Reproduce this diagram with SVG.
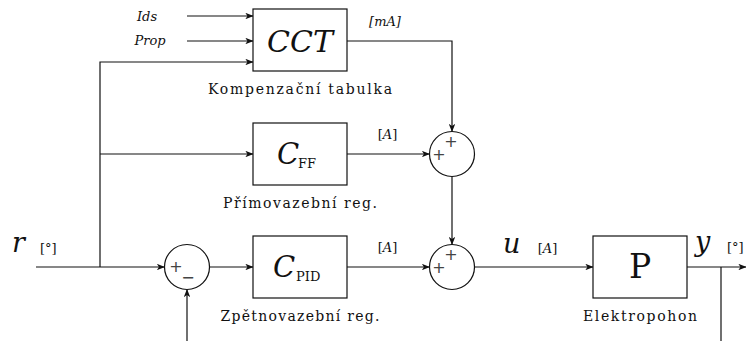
<svg xmlns="http://www.w3.org/2000/svg" width="746" height="341" viewBox="0 0 746 341">
  <style>
    .blk { fill: #fff; stroke: #111; stroke-width: 1.2; }
    .sum { fill: #fff; stroke: #111; stroke-width: 1.2; }
    .wire { fill: none; stroke: #111; stroke-width: 1.2; }
    .arrow { marker-end: url(#tip); }
    .math { font-family: "DejaVu Serif", "Liberation Serif", serif; font-style: italic; fill: #111; }
    .rm { font-family: "DejaVu Serif", "Liberation Serif", serif; fill: #111; }
    .cap { font-family: "DejaVu Serif", "Liberation Serif", serif; font-size: 14px; fill: #111; text-anchor: middle; }
    .unit { font-family: "DejaVu Serif", "Liberation Serif", serif; font-size: 13px; fill: #111; }
    .sign { font-family: "DejaVu Sans", "Liberation Sans", sans-serif; font-size: 16px; fill: #444; text-anchor: middle; }
  </style>
  <defs>
    <marker id="tip" viewBox="0 0 10 8" refX="9.5" refY="4" markerWidth="8" markerHeight="6.4" markerUnits="userSpaceOnUse" orient="auto">
      <path d="M0,0 L10,4 L0,8 L2.5,4 Z" fill="#111"/>
    </marker>
  </defs>

  <!-- signal lines -->
  <g id="connectors">
    <line class="wire arrow" x1="187" y1="16" x2="253" y2="16"/>
    <line class="wire arrow" x1="187" y1="41" x2="253" y2="41"/>
    <line class="wire arrow" x1="36" y1="267" x2="164.5" y2="267"/>
    <polyline class="wire arrow" points="100,267 100,62 253,62"/>
    <line class="wire arrow" x1="100" y1="154" x2="253" y2="154"/>
    <line class="wire arrow" x1="209.5" y1="267" x2="253" y2="267"/>
    <line class="wire arrow" x1="187" y1="341" x2="187" y2="289.5"/>
    <polyline class="wire arrow" points="347,41 452,41 452,131.5"/>
    <line class="wire arrow" x1="347" y1="154" x2="429.5" y2="154"/>
    <line class="wire arrow" x1="452" y1="176.5" x2="452" y2="244.5"/>
    <line class="wire arrow" x1="347" y1="267" x2="429.5" y2="267"/>
    <line class="wire arrow" x1="474.5" y1="267" x2="593" y2="267"/>
    <line class="wire arrow" x1="687" y1="267" x2="746" y2="267"/>
    <line class="wire" x1="721" y1="267" x2="721" y2="341"/>
  </g>

  <!-- signal labels -->
  <g id="labels">
    <text class="math" x="147" y="21" font-size="13" text-anchor="middle">Ids</text>
    <text class="math" x="150" y="45" font-size="13" text-anchor="middle">Prop</text>
    <text class="math" x="385" y="26" font-size="13" text-anchor="middle">[mA]</text>
    <text class="unit" x="387.5" y="139" text-anchor="middle">[<tspan font-style="italic">A</tspan>]</text>
    <text class="unit" x="387.5" y="252" text-anchor="middle">[<tspan font-style="italic">A</tspan>]</text>
    <text class="math" x="12" y="252" font-size="27">r</text>
    <text class="unit" x="40" y="253">[°]</text>
    <text class="math" x="503" y="253" font-size="27">u</text>
    <text class="unit" x="547.5" y="253" text-anchor="middle">[<tspan font-style="italic">A</tspan>]</text>
    <text class="math" x="695" y="251" font-size="27">y</text>
    <text class="unit" x="727" y="252">[°]</text>
  </g>

  <g id="cct">
    <rect class="blk" x="253" y="9" width="94" height="62"/>
    <text class="math" x="300" y="52" font-size="30" text-anchor="middle">CCT</text>
    <text class="cap" x="300" y="94" textLength="184">Kompenzační tabulka</text>
  </g>

  <g id="cff">
    <rect class="blk" x="253" y="123" width="94" height="62"/>
    <text class="math" x="277" y="164" font-size="29">C</text>
    <text class="rm" x="298" y="168" font-size="13">FF</text>
    <text class="cap" x="300" y="208" textLength="154">Přímovazební reg.</text>
  </g>

  <g id="cpid">
    <rect class="blk" x="253" y="236" width="94" height="62"/>
    <text class="math" x="273" y="277" font-size="29">C</text>
    <text class="rm" x="296" y="281" font-size="13">PID</text>
    <text class="cap" x="300" y="321" textLength="159">Zpětnovazební reg.</text>
  </g>

  <g id="plant">
    <rect class="blk" x="593" y="236" width="94" height="62"/>
    <text class="rm" x="640" y="278" font-size="33" text-anchor="middle">P</text>
    <text class="cap" x="640" y="321" textLength="114">Elektropohon</text>
  </g>

  <g id="sum-error">
    <circle class="sum" cx="187" cy="267" r="22.5"/>
    <text class="sign" x="176" y="272">+</text>
    <text class="sign" x="188" y="283">−</text>
  </g>

  <g id="sum-ff">
    <circle class="sum" cx="452" cy="154" r="22.5"/>
    <text class="sign" x="439" y="160">+</text>
    <text class="sign" x="451" y="147">+</text>
  </g>

  <g id="sum-u">
    <circle class="sum" cx="452" cy="267" r="22.5"/>
    <text class="sign" x="439" y="273">+</text>
    <text class="sign" x="451" y="260">+</text>
  </g>
</svg>
